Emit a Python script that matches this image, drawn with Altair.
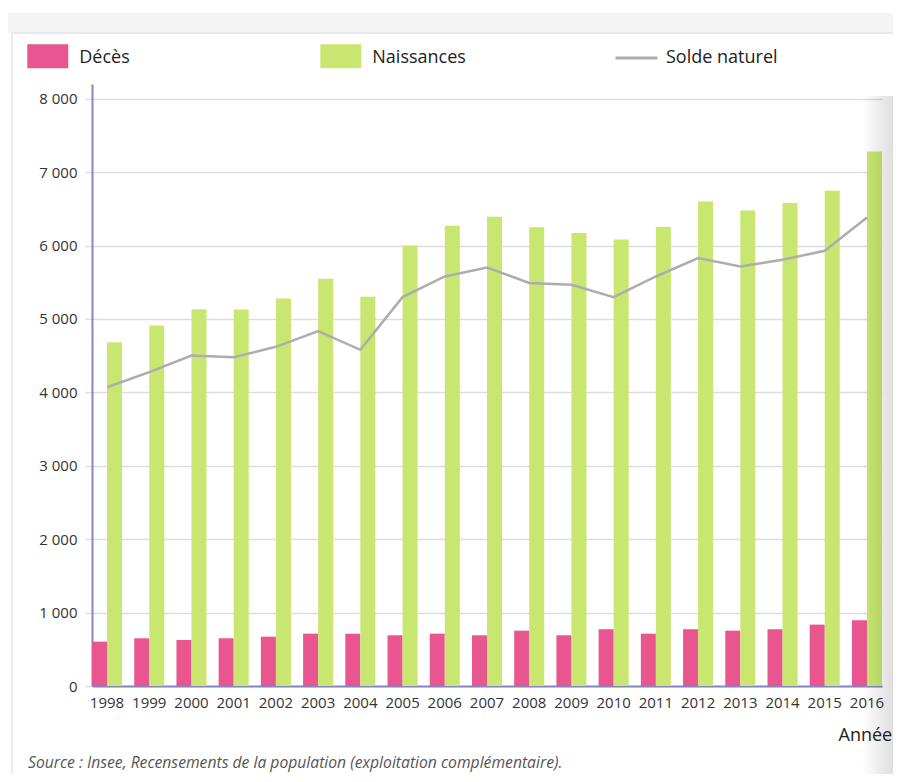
import altair as alt
import pandas as pd

annees = ["1998", "1999", "2000", "2001", "2002", "2003", "2004", "2005", "2006", "2007",
          "2008", "2009", "2010", "2011", "2012", "2013", "2014", "2015", "2016"]
deces = [604, 650, 627, 650, 672, 713, 713, 691, 713, 691, 754, 691, 773, 713, 773, 754, 773, 836, 895]
naissances = [4683, 4910, 5133, 5130, 5278, 5546, 5301, 6000, 6269, 6391, 6250, 6170, 6082, 6251,
              6600, 6477, 6578, 6745, 7282]
solde = [4070, 4275, 4501, 4479, 4620, 4834, 4579, 5297, 5578, 5700, 5490, 5465, 5297, 5578,
         5828, 5714, 5805, 5928, 6382]
series_barres = ["Décès", "Naissances"]
couleurs_barres = ["#e8558f", "#c9e770"]
serie_ligne = "Solde naturel"
couleur_ligne = "#adadad"
ticks_y = [0, 1000, 2000, 3000, 4000, 5000, 6000, 7000, 8000]
source = "Source : Insee, Recensements de la population (exploitation complémentaire)."
titre_x = "Année"

rows = []
for i, a in enumerate(annees):
    rows.append({"annee": a, "serie": "Décès", "valeur": deces[i]})
    rows.append({"annee": a, "serie": "Naissances", "valeur": naissances[i]})
df_bars = pd.DataFrame(rows)
df_line = pd.DataFrame({"annee": annees, "valeur": solde, "serie": [serie_ligne] * len(annees)})

FONT = "Open Sans"
AXIS_COL = "#8585c6"
GRID_COL = "#dddddd"

x_enc = alt.X("annee:N", sort=annees,
              scale=alt.Scale(paddingInner=0.288, paddingOuter=0),
              axis=alt.Axis(domainColor=AXIS_COL, domainWidth=2, ticks=False, labelAngle=0,
                            labelFontSize=15, labelFont=FONT, labelColor="#333333",
                            labelPadding=9, title=titre_x, titleX=746, titleY=54,
                            titleAlign="left", titleBaseline="alphabetic", titleFontSize=18,
                            titleFont=FONT, titleFontWeight="normal", titleColor="#222222",
                            grid=False))
y_scale = alt.Scale(domain=[0, 8200], nice=False)
y_axis = alt.Axis(values=ticks_y, labelExpr="replace(format(datum.value, ','), ',', ' ')",
                  domainColor=AXIS_COL, domainWidth=2, tickColor=GRID_COL, tickSize=7,
                  tickWidth=1.5, gridColor=GRID_COL, gridWidth=1.5, labelFontSize=15,
                  labelFont=FONT, labelColor="#333333", labelPadding=8, title=None)

bars = alt.Chart(df_bars).mark_bar().encode(
    x=x_enc,
    xOffset=alt.XOffset("serie:N", sort=series_barres,
                        scale=alt.Scale(domain=series_barres, paddingInner=0, paddingOuter=0)),
    y=alt.Y("valeur:Q", scale=y_scale, axis=y_axis),
    color=alt.Color("serie:N", sort=series_barres,
                    scale=alt.Scale(domain=series_barres, range=couleurs_barres),
                    legend=alt.Legend(orient="none", legendX=-64.7, legendY=-46.5,
                                      direction="horizontal", title=None,
                                      symbolType="M-1,-0.68H1V0.49H-1Z", symbolSize=1681,
                                      symbolStrokeWidth=0, symbolOpacity=1,
                                      labelFontSize=18, labelFont=FONT, labelColor="#222222",
                                      labelOffset=11, columnPadding=190, padding=0)),
)

line = alt.Chart(df_line).mark_line(strokeWidth=2.5).encode(
    x=alt.X("annee:N", sort=annees),
    y=alt.Y("valeur:Q", scale=y_scale, axis=y_axis),
    stroke=alt.Stroke("serie:N", scale=alt.Scale(domain=[serie_ligne], range=[couleur_ligne]),
                      legend=alt.Legend(orient="none", legendX=522, legendY=-48.5,
                                        direction="horizontal", title=None,
                                        symbolType="stroke", symbolSize=1764,
                                        symbolStrokeWidth=3, labelFontSize=18, labelFont=FONT,
                                        labelColor="#222222", labelOffset=7, padding=0)),
)

dummy = pd.DataFrame({"t": [source]})

band = alt.Chart(dummy).mark_rect(color="#f4f4f4").encode(
    x=alt.value(-84), x2=alt.value(801), y=alt.value(-71), y2=alt.value(-51))
top_rule = alt.Chart(dummy).mark_rule(color="#e3e3e3", strokeWidth=1.5).encode(
    x=alt.value(-80), x2=alt.value(801), y=alt.value(-51))
left_rule = alt.Chart(dummy).mark_rule(color="#e6e6e6", strokeWidth=1.5).encode(
    x=alt.value(-80), y=alt.value(-51), y2=alt.value(690))

src = alt.Chart(dummy).mark_text(align="left", baseline="middle", fontStyle="italic",
                                 fontSize=15.7, font=FONT, color="#555555").encode(
    x=alt.value(-64), y=alt.value(679), text="t:N")

shadow = alt.Chart(dummy).mark_rect(
    fill=alt.Gradient(gradient="linear",
                      stops=[alt.GradientStop(offset=0, color="rgba(0,0,0,0)"),
                             alt.GradientStop(offset=1, color="rgba(0,0,0,0.13)")],
                      x1=0, x2=1, y1=0, y2=0)).encode(
    x=alt.value(770), x2=alt.value(801), y=alt.value(12), y2=alt.value(690))

chart = alt.layer(band, top_rule, left_rule, bars, line, src, shadow).properties(
    width=790, height=602,
    autosize=alt.AutoSizeParams(type="none"),
    padding={"left": 84, "top": 76, "right": 11, "bottom": 88},
    background="white",
).configure_view(stroke=None)

chart.save("out.html", embed_options={"renderer": "svg", "actions": False})
